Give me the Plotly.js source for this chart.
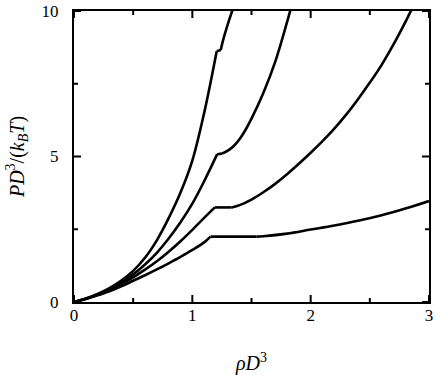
<!DOCTYPE html>
<html>
<head>
<meta charset="utf-8">
<script src="https://cdn.plot.ly/plotly-3.0.1.min.js"></script>
<style>
  html, body { margin: 0; padding: 0; background: #fff; }
</style>
</head>
<body>
<div id="eos_plot" style="width:436px;height:375px;"></div>
<script>
// each curve: fluid branch, coexistence plateau, solid branch

// curve A (steepest)
var aFluidX = [0, 0.1, 0.2, 0.3, 0.4, 0.5, 0.6, 0.7, 0.8, 0.9, 1.0, 1.1, 1.206];
var aFluidY = [0, 0.12, 0.28, 0.48, 0.74, 1.07, 1.52, 2.12, 2.88, 3.76, 4.86, 6.5, 8.62];
var aFlatX = [1.206, 1.24];
var aFlatY = [8.62, 8.66];
var aSolidX = [1.24, 1.26, 1.30, 1.345];
var aSolidY = [8.66, 9.0, 9.55, 10.1];

// curve B
var bFluidX = [0, 0.1, 0.2, 0.3, 0.4, 0.5, 0.6, 0.7, 0.8, 0.9, 1.0, 1.1, 1.21];
var bFluidY = [0, 0.115, 0.27, 0.45, 0.67, 0.95, 1.29, 1.69, 2.18, 2.74, 3.38, 4.15, 5.08];
var bFlatX = [1.21, 1.25];
var bFlatY = [5.08, 5.10];
var bSolidX = [1.25, 1.30, 1.35, 1.40, 1.45, 1.50, 1.60, 1.70, 1.83];
var bSolidY = [5.10, 5.20, 5.36, 5.60, 5.92, 6.30, 7.18, 8.25, 10.05];

// curve C
var cFluidX = [0, 0.1, 0.2, 0.3, 0.4, 0.5, 0.6, 0.7, 0.8, 0.9, 1.0, 1.1, 1.19];
var cFluidY = [0, 0.11, 0.25, 0.42, 0.62, 0.85, 1.11, 1.40, 1.73, 2.09, 2.48, 2.89, 3.25];
var cFlatX = [1.19, 1.333];
var cFlatY = [3.25, 3.25];
var cSolidX = [1.333, 1.4, 1.5, 1.6, 1.7, 1.8, 1.9, 2.0, 2.1, 2.2, 2.3, 2.4, 2.5, 2.6, 2.7, 2.8, 2.85];
var cSolidY = [3.25, 3.33, 3.52, 3.77, 4.06, 4.39, 4.75, 5.13, 5.53, 5.96, 6.44, 6.97, 7.54, 8.15, 8.85, 9.62, 10.03];

// curve D (lowest)
var dFluidX = [0, 0.1, 0.2, 0.3, 0.4, 0.5, 0.6, 0.7, 0.8, 0.9, 1.0, 1.1, 1.154];
var dFluidY = [0, 0.105, 0.23, 0.37, 0.54, 0.73, 0.92, 1.12, 1.33, 1.55, 1.79, 2.05, 2.245];
var dFlatX = [1.154, 1.542];
var dFlatY = [2.245, 2.245];
var dSolidX = [1.542, 1.6, 1.8, 2.0, 2.2, 2.4, 2.6, 2.8, 3.0];
var dSolidY = [2.245, 2.26, 2.35, 2.49, 2.63, 2.79, 2.98, 3.21, 3.47];

var xTicks = [0, 1, 2, 3];
var xMinorTicks = [0.5, 1.5, 2.5];
var yTicks = [0, 5, 10];
var yMinorTicks = [2.5, 7.5];

function seg(x, y, shape) {
    return {
        x: x, y: y,
        mode: 'lines',
        showlegend: false,
        hoverinfo: 'skip',
        line: {color: '#000', width: 2.6, shape: shape, smoothing: 1}
    };
}

var data = [
    seg(aFluidX, aFluidY, 'spline'), seg(aFlatX, aFlatY, 'linear'), seg(aSolidX, aSolidY, 'spline'),
    seg(bFluidX, bFluidY, 'spline'), seg(bFlatX, bFlatY, 'linear'), seg(bSolidX, bSolidY, 'spline'),
    seg(cFluidX, cFluidY, 'spline'), seg(cFlatX, cFlatY, 'linear'), seg(cSolidX, cSolidY, 'spline'),
    seg(dFluidX, dFluidY, 'spline'), seg(dFlatX, dFlatY, 'linear'), seg(dSolidX, dSolidY, 'spline')
];

// inward tick marks on all four sides, drawn as pixel-sized shapes
var tickMarks = [];
function xTick(v, len) {
    [[0, len], [1, -len]].forEach(function (s) {
        tickMarks.push({type: 'line', xref: 'x', yref: 'paper', ysizemode: 'pixel',
            yanchor: s[0], x0: v, x1: v, y0: 0, y1: s[1], line: {color: '#000', width: 2}});
    });
}
function yTick(v, len) {
    [[0, len], [1, -len]].forEach(function (s) {
        tickMarks.push({type: 'line', xref: 'paper', yref: 'y', xsizemode: 'pixel',
            xanchor: s[0], y0: v, y1: v, x0: 0, x1: s[1], line: {color: '#000', width: 2}});
    });
}
xTicks.forEach(function (v) { xTick(v, 7); });
xMinorTicks.forEach(function (v) { xTick(v, 4); });
yTicks.forEach(function (v) { yTick(v, 7); });
yMinorTicks.forEach(function (v) { yTick(v, 4); });

var serif = 'Liberation Serif, DejaVu Serif, serif';

var layout = {
    width: 436,
    height: 375,
    margin: {l: 74, r: 7, t: 11, b: 73},
    paper_bgcolor: '#fff',
    plot_bgcolor: '#fff',
    font: {family: serif, size: 17, color: '#000'},
    shapes: tickMarks,
    xaxis: {
        range: [0, 3],
        tickmode: 'array',
        tickvals: xTicks,
        ticks: '',
        showline: true,
        linewidth: 2,
        linecolor: '#000',
        mirror: true,
        showgrid: false,
        zeroline: false,
        ticklabelstandoff: -3,
        tickfont: {family: serif, size: 17, color: '#000'},
        title: {text: '<i>ρD</i><sup>3</sup>', standoff: 38, font: {family: serif, size: 20}}
    },
    yaxis: {
        range: [0, 10],
        tickmode: 'array',
        tickvals: yTicks,
        ticks: '',
        showline: true,
        linewidth: 2,
        linecolor: '#000',
        mirror: true,
        showgrid: false,
        zeroline: false,
        ticklabelstandoff: 10,
        tickfont: {family: serif, size: 17, color: '#000'},
        title: {text: '<i>PD</i><sup>3</sup>/(<i>k</i><sub><i>B</i></sub><i>T</i>)', standoff: 12, font: {family: serif, size: 20}}
    }
};

Plotly.newPlot('eos_plot', data, layout, {staticPlot: true, displayModeBar: false});
</script>
</body>
</html>
